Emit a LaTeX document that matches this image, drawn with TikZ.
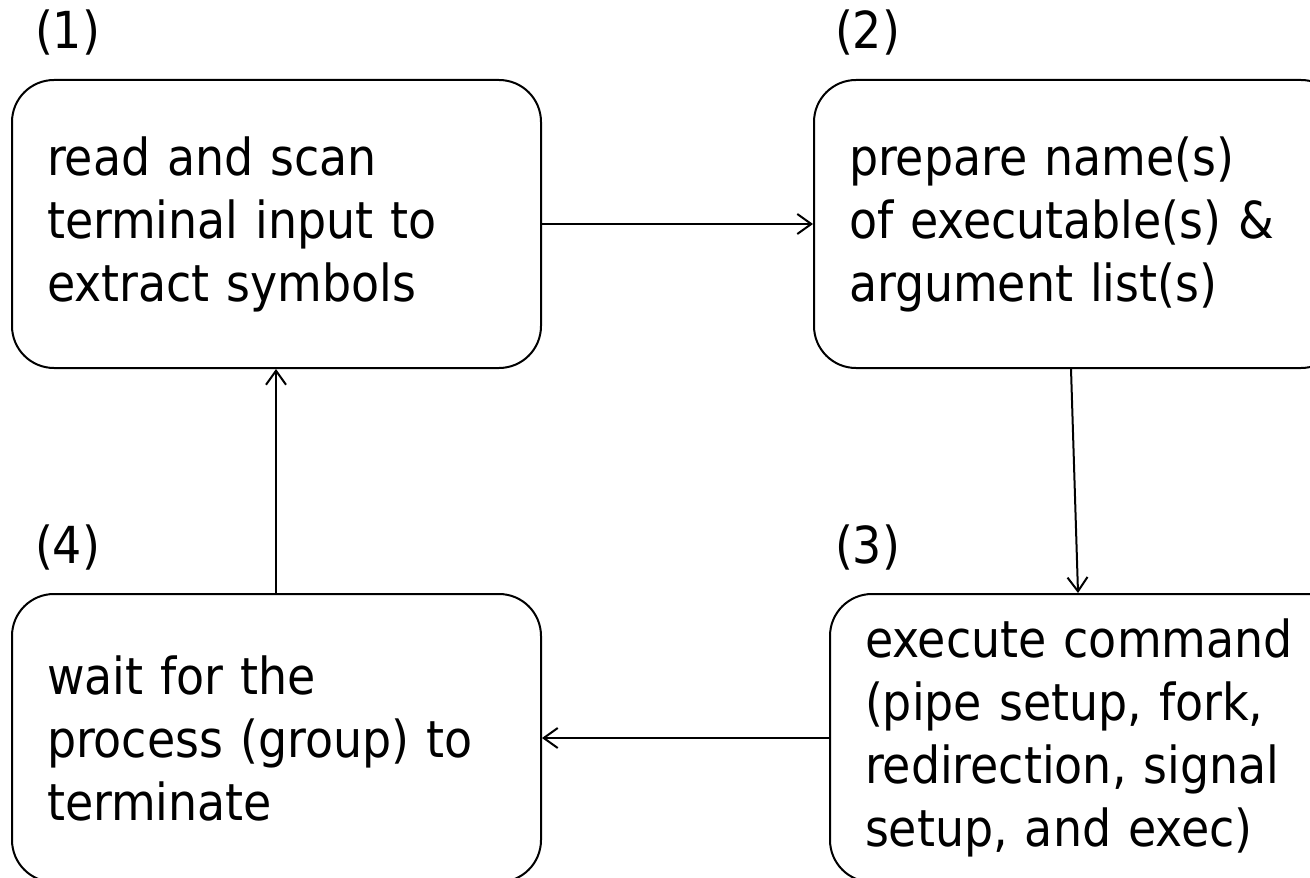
\documentclass[tikz,border=0pt]{standalone}
\usepackage{fontspec}
\setmainfont{DejaVu Sans Condensed}
\usetikzlibrary{positioning,arrows.meta}
\begin{document}
\begin{tikzpicture}[x=0.5pt,y=-0.5pt,line width=1pt,
  >={Straight Barb[length=7pt,width=10pt]},
  stage/.style={draw, rounded corners=21pt, align=left, text width=229.5pt,
    inner xsep=17.5pt, minimum height=144pt, font=\fontsize{25.5}{31.5}\selectfont},
  num/.style={anchor=base west, inner sep=0pt, font=\fontsize{25.5}{31.5}\selectfont}]
  \useasboundingbox (0,0) rectangle (1310,877);
  \clip (0,0) rectangle (1310,877);
  % the four stages
  \node[stage] (a) at (276.5,224) {read and scan\\terminal input to\\extract symbols};
  \node[stage] (b) [right=135.5pt of a] {prepare name(s)\\of executable(s) \&\\argument list(s)};
  \node[stage] (d) [below=112pt of a] {wait for the\\process (group) to\\terminate};
  \node[stage] (c) [right=143.5pt of d] {execute command\\(pipe setup, fork,\\redirection, signal\\setup, and exec)};
  % numbers
  \node[num] (na) at ([xshift=11.5pt,yshift=15pt]a.north west) {(1)};
  \node[num] (nb) at ([xshift=10.5pt,yshift=15pt]b.north west) {(2)};
  \node[num] (nc) at ([xshift=2.5pt,yshift=15pt]c.north west) {(3)};
  \node[num] (nd) at ([xshift=11.5pt,yshift=15pt]d.north west) {(4)};
  % arrows
  \draw[->] (a) -- (b);
  \draw[->] ([xshift=129pt]b.south west) -- ([xshift=124.5pt]c.north west);
  \draw[->] (c) -- (d);
  \draw[->] ([xshift=132.5pt]d.north west) -- ([xshift=132.5pt]a.south west);
\end{tikzpicture}
\end{document}
